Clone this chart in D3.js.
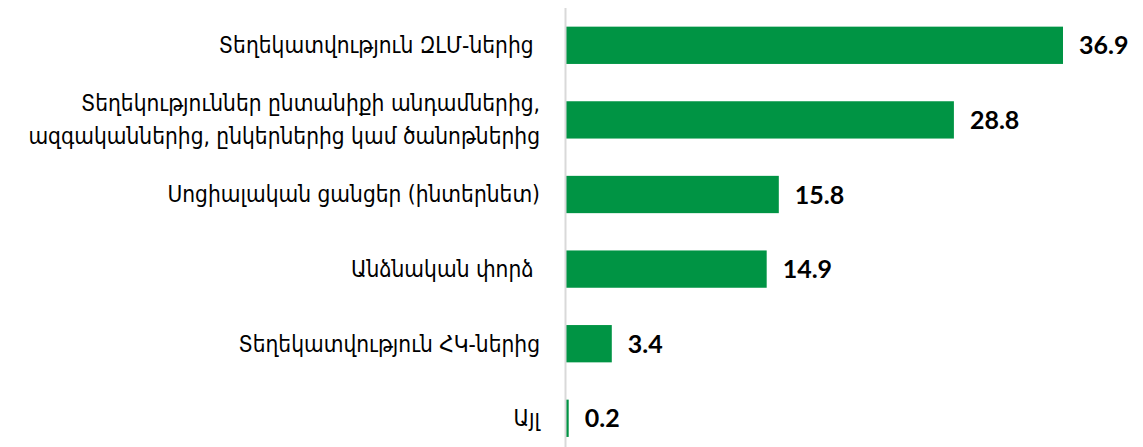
<!DOCTYPE html>
<html>
<head>
<meta charset="utf-8">
<style>
body { margin: 0; background: #fff; }
text.cat { white-space: pre; }
</style>
</head>
<body>
<script src="https://cdn.jsdelivr.net/npm/d3@7"></script>
<script>
// chart size
var svgWidth = 1143;
var svgHeight = 447;
var axisX = 566;

// data
var categories = [
	['Տեղեկատվություն ԶԼՄ-ներից '],
	['Տեղեկություններ ընտանիքի անդամներից,', 'ազգականներից, ընկերներից կամ ծանոթներից'],
	['Սոցիալական ցանցեր (ինտերնետ)'],
	['Անձնական փորձ '],
	['Տեղեկատվություն ՀԿ-ներից'],
	['Այլ']
];
var values = [36.9, 28.8, 15.8, 14.9, 3.4, 0.2];
var valueLabels = ['36.9', '28.8', '15.8', '14.9', '3.4', '0.2'];

var svg = d3.select('body').append('svg')
	.attr('width', svgWidth)
	.attr('height', svgHeight)

var x = d3.scaleLinear()
	.domain([0, 36.9])
	.range([axisX, 1063])

var y = d3.scaleBand()
	.domain(d3.range(values.length))
	.range([8, 455.6])
	.paddingInner(0.5)
	.paddingOuter(0.25)

// bars
svg.selectAll('rect.bar')
	.data(values)
	.enter().append('rect')
	.attr('class', 'bar')
	.attr('x', x(0))
	.attr('y', function(d, i) { return y(i) })
	.attr('width', function(d) { return x(d) - x(0) })
	.attr('height', y.bandwidth())
	.attr('fill', '#009444')

// axis line
svg.append('line')
	.attr('x1', axisX - 0.5).attr('x2', axisX - 0.5)
	.attr('y1', 8).attr('y2', svgHeight)
	.attr('stroke', '#d9d9d9')
	.attr('stroke-width', 2)

// value labels
svg.selectAll('text.val')
	.data(values)
	.enter().append('text')
	.attr('class', 'val')
	.attr('x', function(d) { return x(d) + 16 })
	.attr('y', function(d, i) { return y(i) + y.bandwidth() / 2 })
	.attr('dy', '0.36em')
	.attr('font-family', 'Lato, "Open Sans", sans-serif')
	.attr('font-weight', 'bold')
	.attr('font-size', 25)
	.attr('fill', '#000')
	.text(function(d, i) { return valueLabels[i] })

// category labels
var labels = svg.selectAll('text.cat')
	.data(categories)
	.enter().append('text')
	.attr('class', 'cat')
	.attr('text-anchor', 'end')
	.attr('font-family', '"DejaVu Sans Condensed", "DejaVu Sans", sans-serif')
	.attr('font-size', 22.5)
	.attr('fill', '#000')

labels.each(function(lines, i) {
	var cy = y(i) + y.bandwidth() / 2;
	var lh = 33;
	var t = d3.select(this);
	lines.forEach(function(s, k) {
		t.append('tspan')
			.attr('x', 540)
			.attr('y', cy + (k - (lines.length - 1) / 2) * lh)
			.attr('dy', '0.35em')
			.text(s)
	})
})
</script>
</body>
</html>
